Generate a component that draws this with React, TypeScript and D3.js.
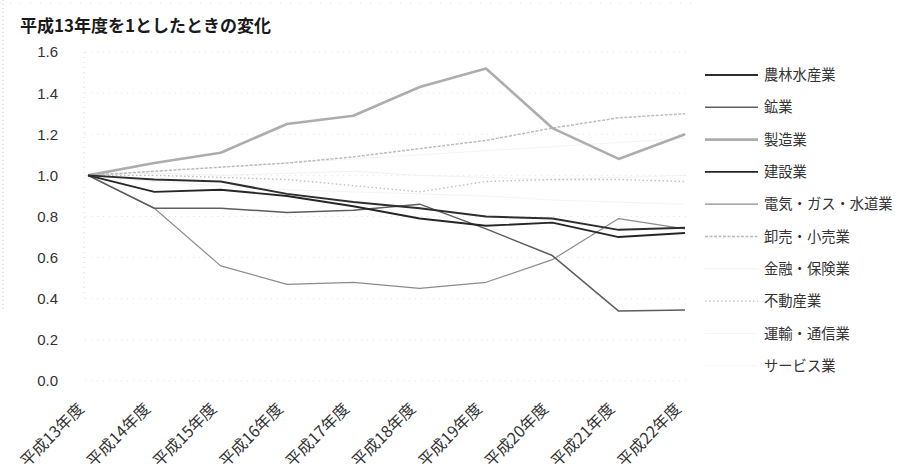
import React from "react";
import * as d3 from "d3";

// 年度（横軸）
const years = [
  "平成13年度", "平成14年度", "平成15年度", "平成16年度", "平成17年度",
  "平成18年度", "平成19年度", "平成20年度", "平成21年度", "平成22年度",
];

// 縦軸目盛
const yTicks = [0, 0.2, 0.4, 0.6, 0.8, 1.0, 1.2, 1.4, 1.6];

// 業種別の推移（平成13年度=1）
const agriculture = [1.0, 0.98, 0.97, 0.91, 0.87, 0.84, 0.8, 0.79, 0.735, 0.745];
const mining = [1.0, 0.84, 0.84, 0.82, 0.83, 0.86, 0.74, 0.61, 0.34, 0.345];
const manufacturing = [1.0, 1.06, 1.11, 1.25, 1.29, 1.43, 1.52, 1.23, 1.08, 1.2];
const construction = [1.0, 0.92, 0.93, 0.9, 0.85, 0.79, 0.755, 0.77, 0.7, 0.72];
const utilities = [1.0, 0.84, 0.56, 0.47, 0.48, 0.45, 0.48, 0.59, 0.79, 0.74];
const trade = [1.0, 1.02, 1.04, 1.06, 1.09, 1.13, 1.17, 1.23, 1.28, 1.3];
const finance = [1.0, 1.01, 1.0, 1.01, 1.02, 1.0, 0.99, 0.98, 0.99, 1.0];
const realEstate = [1.0, 1.0, 0.99, 0.98, 0.95, 0.92, 0.97, 0.98, 0.98, 0.97];
const transport = [1.0, 0.97, 0.95, 0.93, 0.92, 0.91, 0.9, 0.88, 0.87, 0.86];
const services = [1.0, 1.02, 1.04, 1.06, 1.08, 1.1, 1.12, 1.14, 1.16, 1.18];

const seriesNames = [
  "農林水産業", "鉱業", "製造業", "建設業", "電気・ガス・水道業",
  "卸売・小売業", "金融・保険業", "不動産業", "運輸・通信業", "サービス業",
];
const seriesValues = [
  agriculture, mining, manufacturing, construction, utilities,
  trade, finance, realEstate, transport, services,
];

type LineStyle = { stroke: string; width: number; dash?: string };
const styles: LineStyle[] = [
  { stroke: "#2e2e2e", width: 2 },
  { stroke: "#5e5e5e", width: 1.5 },
  { stroke: "#adadad", width: 2.6 },
  { stroke: "#262626", width: 1.9 },
  { stroke: "#8c8c8c", width: 1.2 },
  { stroke: "#bcbcbc", width: 1.5, dash: "3 1.5" },
  { stroke: "#f2f2f2", width: 1 },
  { stroke: "#c0c0c0", width: 1.4, dash: "1.5 2.5" },
  { stroke: "#f4f4f4", width: 1 },
  { stroke: "#f4f4f4", width: 1 },
];

// 描画順（薄い線を先に）
const drawOrder = [6, 8, 9, 7, 5, 2, 4, 1, 3, 0];

const W = 897;
const H = 475;

export default function App() {
  const x = d3.scalePoint<string>().domain(years).range([88, 685]);
  const y = d3.scaleLinear().domain([0, 1.6]).range([381, 52]);

  const line = d3
    .line<number>()
    .x((_, i) => x(years[i]) as number)
    .y((d) => y(d));

  const sansFont = "'Liberation Sans', 'Open Sans', sans-serif";
  const jpFont = "'Noto Sans CJK JP', sans-serif";

  const legendX0 = 705;
  const legendX1 = 758;
  const legendY0 = 75;
  const legendStep = 32.3;

  return (
    <svg
      width={W}
      height={H}
      viewBox={`0 0 ${W} ${H}`}
      style={{ position: "absolute", left: 0, top: 0, background: "#fff" }}
    >
      {/* 枠の名残（点線） */}
      <line x1={3} x2={3} y1={0} y2={310} stroke="#cfcfcf" strokeWidth={1} strokeDasharray="1 3" />
      <line x1={0} x2={700} y1={3} y2={3} stroke="#dedede" strokeWidth={1} strokeDasharray="1 9" />

      {/* タイトル */}
      <text x={20} y={32} fontFamily={jpFont} fontSize={17} fontWeight={700} fill="#1a1a1a">
        平成13年度を1としたときの変化
      </text>

      {/* 目盛線 */}
      {yTicks.map((t) => (
        <line
          key={`g${t}`}
          x1={85}
          x2={690}
          y1={y(t)}
          y2={y(t)}
          stroke="#e2e2e2"
          strokeWidth={1}
          strokeDasharray="1 5"
        />
      ))}
      <line x1={84} x2={84} y1={y(1.6)} y2={y(0.4)} stroke="#dcdcdc" strokeDasharray="1 4" />

      {/* 縦軸ラベル */}
      {yTicks.map((t) => (
        <text
          key={`t${t}`}
          x={58}
          y={y(t)}
          dy="0.36em"
          textAnchor="end"
          fontFamily={sansFont}
          fontSize={15}
          fill="#333"
        >
          {t.toFixed(1)}
        </text>
      ))}

      {/* 横軸ラベル */}
      {years.map((yr) => {
        const cx = x(yr) as number;
        return (
          <text
            key={yr}
            transform={`translate(${cx - 8},${y(0) + 24}) rotate(-45)`}
            textAnchor="end"
            dominantBaseline="central"
            fontFamily={jpFont}
            fontSize={16}
            fill="#333"
          >
            {yr}
          </text>
        );
      })}

      {/* 折れ線 */}
      {drawOrder.map((k) => (
        <path
          key={seriesNames[k]}
          d={line(seriesValues[k]) || ""}
          fill="none"
          stroke={styles[k].stroke}
          strokeWidth={styles[k].width}
          strokeDasharray={styles[k].dash}
          strokeLinejoin="round"
        />
      ))}

      {/* 凡例 */}
      {seriesNames.map((name, i) => {
        const ly = legendY0 + i * legendStep;
        const s = styles[i];
        return (
          <g key={`l${name}`}>
            <line
              x1={legendX0}
              x2={legendX1}
              y1={ly}
              y2={ly}
              stroke={s.stroke}
              strokeWidth={s.width}
              strokeDasharray={s.dash}
            />
            <text
              x={764}
              y={ly}
              dy="0.36em"
              fontFamily={jpFont}
              fontSize={14.3}
              fill="#333"
            >
              {name}
            </text>
          </g>
        );
      })}
    </svg>
  );
}
